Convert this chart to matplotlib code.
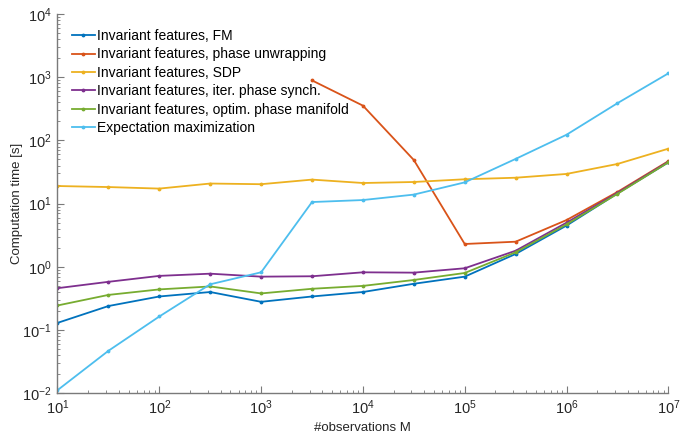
import numpy as np
import matplotlib.pyplot as plt
from matplotlib.ticker import LogLocator, NullFormatter, LogFormatterSciNotation

# observations M (log-spaced, half decades)
M = [1e1, 10**1.5, 1e2, 10**2.5, 1e3, 10**3.5, 1e4, 10**4.5, 1e5, 10**5.5, 1e6, 10**6.5, 1e7]

t_fm = [0.13, 0.24, 0.34, 0.40, 0.28, 0.34, 0.40, 0.54, 0.70, 1.6, 4.5, 14.5, 45]
t_unwrap = [np.nan] * 5 + [890, 355, 49, 2.3, 2.5, 5.5, 15.3, 47]
t_sdp = [19, 18.3, 17.3, 20.8, 20.3, 24, 21.2, 22, 24.3, 25.7, 29.5, 42.4, 74]
t_synch = [0.46, 0.58, 0.72, 0.78, 0.70, 0.71, 0.82, 0.81, 0.95, 1.8, 5.0, 14.8, 46]
t_manifold = [0.245, 0.36, 0.44, 0.49, 0.38, 0.45, 0.50, 0.62, 0.80, 1.7, 4.7, 14.3, 45]
t_em = [0.0112, 0.047, 0.164, 0.53, 0.82, 10.6, 11.4, 13.9, 21.7, 51, 123, 388, 1150]

labels = ["Invariant features, FM",
          "Invariant features, phase unwrapping",
          "Invariant features, SDP",
          "Invariant features, iter. phase synch.",
          "Invariant features, optim. phase manifold",
          "Expectation maximization"]
colors = ["#0072BD", "#D95319", "#EDB120", "#7E2F8E", "#77AC30", "#4DBEEE"]

x_ticks = [1e1, 1e2, 1e3, 1e4, 1e5, 1e6, 1e7]
y_ticks = [1e-2, 1e-1, 1e0, 1e1, 1e2, 1e3, 1e4]

plt.rcParams["font.family"] = ["Liberation Sans", "DejaVu Sans"]
plt.rcParams["mathtext.fontset"] = "custom"
plt.rcParams["mathtext.rm"] = "Liberation Sans"
plt.rcParams["axes.unicode_minus"] = False

fig = plt.figure(figsize=(6.91, 4.37), dpi=100)
ax = fig.add_axes([0.0832, 0.100, 0.884, 0.868])

for y, lab, c in zip([t_fm, t_unwrap, t_sdp, t_synch, t_manifold, t_em], labels, colors):
    ax.plot(M, y, color=c, lw=1.3, marker=".", ms=3.5, label=lab)

ax.set_xscale("log")
ax.set_yscale("log")
ax.set_xlim(1e1, 1e7)
ax.set_ylim(1e-2, 1e4)

ax.set_xticks(x_ticks)
ax.set_yticks(y_ticks)
ax.xaxis.set_major_formatter(LogFormatterSciNotation())
ax.yaxis.set_major_formatter(LogFormatterSciNotation())
ax.xaxis.set_minor_locator(LogLocator(base=10, subs=np.arange(2, 10), numticks=20))
ax.xaxis.set_minor_formatter(NullFormatter())
ax.yaxis.set_minor_locator(LogLocator(base=10, subs=np.arange(2, 10), numticks=20))
ax.yaxis.set_minor_formatter(NullFormatter())

grey = "#262626"
for side in ["top", "right"]:
    ax.spines[side].set_visible(False)
for side in ["left", "bottom"]:
    ax.spines[side].set_color("#7a7a7a")
    ax.spines[side].set_linewidth(1.0)
ax.tick_params(which="both", direction="in", colors="#7a7a7a", labelcolor=grey, labelsize=10.5)
ax.tick_params(which="major", length=5, pad=4)
ax.tick_params(which="minor", length=2.5)

ax.set_xlabel("#observations M", fontsize=9.5, color=grey, labelpad=3)
ax.set_ylabel("Computation time [s]", fontsize=9.5, color=grey)
ax.yaxis.set_label_coords(-0.057, 0.5)

ax.legend(loc="upper left", frameon=False, fontsize=10, handlelength=1.7,
          handletextpad=0.15, labelspacing=0.32, borderaxespad=0.0,
          bbox_to_anchor=(0.014, 0.975))

fig.savefig("out.png", dpi=100)
